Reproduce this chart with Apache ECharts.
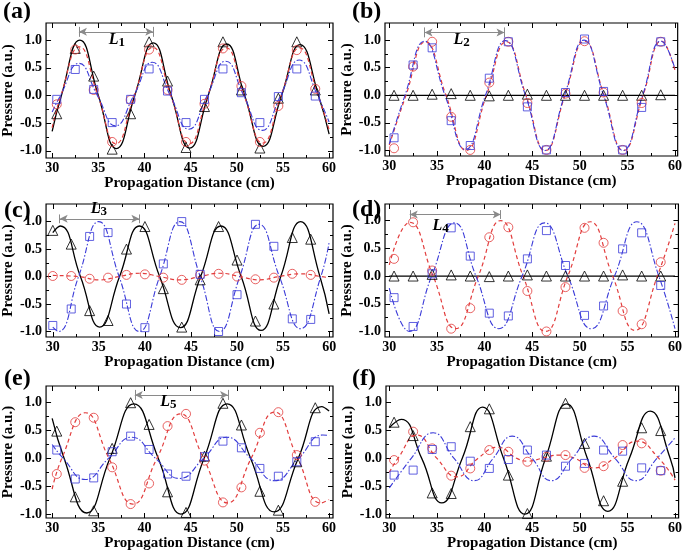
<!DOCTYPE html>
<html>
<head>
<meta charset="utf-8">
<script src="https://cdn.jsdelivr.net/npm/echarts@6/dist/echarts.min.js"></script>
<style>
  html, body { margin: 0; padding: 0; background: #fff; }
  #chart { width: 685px; height: 554px; }
</style>
</head>
<body>
<div id="chart"></div>
<script>
// sample positions (cm)
var xOdd = [30.5, 32.5, 34.5, 36.5, 38.5, 40.5, 42.5, 44.5, 46.5, 48.5, 50.5, 52.5, 54.5, 56.5, 58.5];
var xEven = [30, 32, 34, 36, 38, 40, 42, 44, 46, 48, 50, 52, 54, 56, 58];

var xTicks = [30, 35, 40, 45, 50, 55, 60];
var xMinor = [32.5, 37.5, 42.5, 47.5, 52.5, 57.5];
var yTicks = [-1, -0.5, 0, 0.5, 1];
var yMinor = [-0.75, -0.25, 0.25, 0.75];

// (a)
var aTri = [-0.33, 0.85, 0.35, -0.97, -0.33, 0.97, 0.26, -0.94, -0.2, 0.97, 0.1, -0.95, -0.05, 0.97, 0.1];
var aCir = [-0.16, 0.83, 0.1, -0.84, -0.08, 0.83, 0.1, -0.84, -0.15, 0.85, 0.17, -0.84, -0.19, 0.82, 0.12];
var aSq = [-0.07, 0.47, 0.11, -0.49, -0.07, 0.48, 0.08, -0.49, -0.07, 0.48, 0.05, -0.49, -0.02, 0.48, -0.01];
var aFitBlack = [[30,-0.65],[31,0],[33,1.0],[35,0],[36.95,-0.96],[38.95,0],[40.95,0.95],[42.9,0],[44.9,-0.95],[46.9,0],[48.9,0.93],[50.85,0],[52.85,-0.92],[54.85,0],[56.85,0.92],[58.85,0],[60,-0.7]];
var aFitRed = [[30,-0.58],[30.95,0],[32.95,0.88],[34.95,0],[36.9,-0.87],[38.9,0],[40.9,0.87],[42.85,0],[44.85,-0.87],[46.85,0],[48.85,0.86],[50.8,0],[52.8,-0.86],[54.8,0],[56.8,0.86],[58.8,0],[60,-0.62]];
var aFitBlue = [[30,-0.3],[30.9,0],[32.9,0.58],[34.9,0],[36.85,-0.55],[38.85,0],[40.85,0.6],[42.8,0],[44.8,-0.61],[46.8,0],[48.8,0.62],[50.75,0],[52.75,-0.63],[54.75,0],[56.75,0.64],[58.75,0],[60,-0.48]];

// (b)
var bTri = [0, 0, 0.02, 0.03, 0, -0.01, 0, 0.02, 0, 0, 0, 0, 0, 0, 0.01];
var bCir = [-0.96, 0.52, 0.97, -0.39, -0.99, 0.23, 0.97, -0.14, -0.99, 0.03, 0.98, 0.05, -0.99, -0.14, 0.97];
var bSq = [-0.77, 0.55, 0.86, -0.46, -0.91, 0.31, 0.97, -0.21, -0.99, 0.05, 1.02, 0.07, -0.99, -0.22, 0.97];
var bFitBlack = [[30,0],[60,0]];
var bFitRed = [[30,-0.9],[31.75,0],[33.8,0.97],[35.95,0],[38.1,-1.0],[40.2,0],[42.3,0.97],[44.35,0],[46.4,-1.0],[48.45,0],[50.5,0.98],[52.55,0],[54.6,-1.0],[56.65,0],[58.6,0.98],[60,0.45]];
var bFitBlue = [[30,-0.88],[31.65,0],[33.7,0.98],[35.85,0],[38,-0.98],[40.1,0],[42.2,0.99],[44.3,0],[46.35,-1.0],[48.4,0],[50.45,1.0],[52.5,0],[54.55,-1.0],[56.6,0],[58.55,0.98],[60,0.48]];

// (c)
var cTri = [0.84, 0.59, -0.62, -0.8, 0.5, 0.91, -0.22, -0.92, -0.06, 0.91, 0.3, -0.81, -0.5, 0.71, 0.68];
var cCir = [0.01, 0.01, -0.04, -0.02, 0.03, 0.04, -0.02, -0.06, 0.03, 0.05, 0, -0.05, -0.02, 0.05, 0.03];
var cSq = [-0.89, -0.59, 0.73, 0.8, -0.5, -0.93, 0.23, 1.0, 0.04, -1.0, -0.33, 0.95, 0.55, -0.77, -0.78];
var cFitBlack = [[30,0.8],[30.8,0.92],[33,0],[35.1,-0.92],[37.25,0],[39.4,0.92],[41.6,0],[43.85,-0.93],[46.05,0],[48.25,0.92],[50.45,0],[52.6,-0.98],[54.75,0],[56.9,1.0],[59,0],[60,-0.68]];
var cFitRed = [[30,0.02],[32.8,0],[35,-0.06],[37.2,0],[39.4,0.06],[41.6,0],[43.8,-0.06],[46,0],[48.1,0.06],[50.3,0],[52.4,-0.06],[54.6,0],[56.9,0.05],[59.1,0],[60,-0.02]];
var cFitBlue = [[30,-0.92],[30.6,-1.0],[32.8,0],[35,1.0],[37.2,0],[39.4,-1.0],[41.6,0],[43.8,1.0],[46,0],[48.1,-1.0],[50.3,0],[52.4,0.95],[54.6,0],[56.9,-0.95],[59.1,0],[60,0.62]];

// (d)
var dTri = [0, 0, 0.03, 0.02, 0, -0.01, 0, 0.02, 0, 0, 0, 0, 0.02, 0, 0];
var dCir = [0.31, 0.97, 0.1, -0.95, -0.58, 0.7, 0.88, -0.27, -1.0, -0.2, 0.87, 0.6, -0.63, -0.87, 0.25];
var dSq = [-0.39, -0.91, 0.04, 0.87, 0.36, -0.67, -0.72, 0.31, 0.82, 0.19, -0.71, -0.54, 0.49, 0.78, -0.17];
var dFitBlack = [[30,0],[60,0]];
var dFitRed = [[30,0.2],[32.15,0.97],[34.6,0],[36.95,-0.95],[39.35,0],[41.7,1.0],[44.05,0],[46.4,-1.0],[48.75,0],[51.1,0.98],[53.45,0],[55.8,-0.98],[58.15,0],[60,0.95]];
var dFitBlue = [[30,-0.22],[32.1,-1.0],[34.45,0],[36.85,0.96],[39.1,0],[41.5,-0.95],[43.95,0],[46.3,0.96],[48.75,0],[51.2,-0.95],[53.65,0],[56,0.98],[58.3,0],[60,-0.95]];

// (e)
var eTri = [0.49, -0.69, -0.94, 0.18, 1.0, 0.61, -0.6, -0.97, 0.04, 0.99, 0.6, -0.59, -0.93, -0.06, 0.91];
var eCir = [-0.28, 0.65, 0.73, -0.16, -0.82, -0.45, 0.58, 0.8, -0.04, -0.79, -0.52, 0.46, 0.83, 0.06, -0.78];
var eSq = [0.15, -0.37, -0.35, 0.12, 0.4, 0.16, -0.28, -0.32, 0.03, 0.31, 0.19, -0.18, -0.32, -0.06, 0.3];
var eFitBlack = [[30,0.72],[31.3,0],[33.75,-0.98],[36.25,0],[38.85,0.98],[41.5,0],[43.95,-1.0],[46.45,0],[48.95,0.98],[51.5,0],[54.05,-0.96],[56.65,0],[59.2,0.93],[60,0.85]];
var eFitRed = [[30,-0.55],[31.05,0],[33.6,0.82],[36.15,0],[38.75,-0.82],[41.35,0],[43.9,0.8],[46.4,0],[49,-0.8],[51.55,0],[54.1,0.83],[56.6,0],[59.1,-0.8],[60,-0.74]];
var eFitBlue = [[30,0.25],[31.2,0],[33.6,-0.38],[36.1,0],[38.6,0.38],[41.2,0],[43.8,-0.36],[46.4,0],[48.9,0.38],[51.5,0],[54.1,-0.4],[56.7,0],[59.3,0.42],[60,0.41]];

// (f)
var fTri = [0.65, 0.41, -0.62, -0.63, 0.57, 0.89, -0.3, -0.99, 0.04, 0.99, 0.27, -0.76, -0.41, 0.55, 0.5];
var fCir = [-0.03, 0.48, 0.18, -0.31, -0.18, 0.15, 0.12, -0.06, 0.03, 0.06, -0.17, -0.14, 0.24, 0.27, -0.22];
var fSq = [-0.3, -0.21, 0.16, 0.21, -0.05, -0.18, -0.02, 0.15, 0.06, -0.14, -0.09, 0.15, 0.13, -0.17, -0.22];
var fFitBlack = [[30,0.55],[31.25,0.7],[33.4,0],[35.5,-0.8],[37.65,0],[39.8,0.92],[42,0],[44.25,-1.0],[46.4,0],[48.6,0.98],[50.8,0],[52.95,-0.95],[55.2,0],[57.4,0.85],[59.5,0],[60,-0.35]];
var fFitRed = [[30,-0.25],[30.9,0],[32.9,0.42],[35,0],[37.1,-0.33],[39.3,0],[41.4,0.2],[43.4,0],[44.6,-0.05],[46,0],[47.9,0.06],[49.5,0],[51.5,-0.17],[53.6,0],[56,0.31],[58.3,0],[60,-0.39]];
var fFitBlue = [[30,-0.53],[32.3,0],[34.6,0.46],[36.8,0],[38.9,-0.4],[40.9,0],[42.9,0.4],[45,0],[47,-0.4],[49.2,0],[51.5,0.4],[53.7,0],[55.9,-0.4],[58.1,0],[60,0.37]];

var FONT = '"Liberation Serif", "Times New Roman", serif';
var RED = '#e23c3c';
var BLUE = '#3a3ad8';

var panels = [
  {tag: '(a)', tagPos: [3, 0], box: [37, 23, 296, 135], xr: [29.34, 60.42], yr: [-1.13, 1.31], yGap: 20,
   xs: xOdd, tri: aTri, cir: aCir, sq: aSq, fits: [aFitBlack, aFitRed, aFitBlue],
   arrow: {x1: 32.9, x2: 40.95, y: 1.15, h: 0.09, lx: 37.0, ly: 0.95, sub: '1'}},
  {tag: '(b)', tagPos: [352, 0], box: [385, 23, 296, 133], xr: [29.55, 60.28], yr: [-1.1, 1.31], yGap: 22,
   xs: xOdd, tri: bTri, cir: bCir, sq: bSq, fits: [bFitBlack, bFitRed, bFitBlue],
   arrow: {x1: 33.7, x2: 42.1, y: 1.14, h: 0.09, lx: 37.6, ly: 0.95, sub: '2'}},
  {tag: '(c)', tagPos: [4, 199], box: [36, 204, 297, 133], xr: [29.27, 60.42], yr: [-1.1, 1.32], yGap: 20,
   xs: xEven, tri: cTri, cir: cCir, sq: cSq, fits: [cFitBlack, cFitRed, cFitBlue],
   arrow: {x1: 30.75, x2: 39.4, y: 1.05, h: 0.08, lx: 35.0, ly: 1.18, sub: '3'}},
  {tag: '(d)', tagPos: [352, 198], box: [385, 204, 297, 133], xr: [29.55, 60.36], yr: [-1.1, 1.3], yGap: 22,
   xs: xOdd, tri: dTri, cir: dCir, sq: dSq, fits: [dFitBlack, dFitRed, dFitBlue],
   arrow: {x1: 32.15, x2: 41.7, y: 1.11, h: 0.08, lx: 35.4, ly: 0.86, sub: '4'}},
  {tag: '(e)', tagPos: [4, 367], box: [37, 386, 296, 132], xr: [29.34, 60.42], yr: [-1.07, 1.3], yGap: 20,
   xs: xOdd, tri: eTri, cir: eCir, sq: eSq, fits: [eFitBlack, eFitRed, eFitBlue],
   arrow: {x1: 38.95, x2: 49.05, y: 1.14, h: 0.09, lx: 42.6, ly: 0.96, sub: '5'}},
  {tag: '(f)', tagPos: [352, 367], box: [386, 386, 296, 132], xr: [29.65, 60.38], yr: [-1.07, 1.3], yGap: 22,
   xs: xOdd, tri: fTri, cir: fCir, sq: fSq, fits: [fFitBlack, fFitRed, fFitBlue],
   arrow: null}
];

function pairs(xs, ys) {
  return xs.map(function (x, i) { return [x, ys[i]]; });
}

function axis(gi, range, pos, ticks, len, isY, withLabels, gap) {
  var a = {
    type: 'value', gridIndex: gi, position: pos,
    min: range[0], max: range[1],
    splitLine: {show: false},
    axisLine: {show: false, onZero: false},
    axisTick: {show: true, inside: true, length: len, customValues: ticks,
               lineStyle: {color: '#000', width: 1}},
    axisLabel: {show: false}
  };
  if (withLabels) {
    a.axisLabel = {
      show: true, customValues: isY ? yTicks : xTicks, margin: isY ? 4 : 3,
      fontFamily: FONT, fontWeight: 'bold', fontSize: 14, color: '#000',
      formatter: isY ? function (v) { return v.toFixed(1); } : function (v) { return String(v); }
    };
    a.name = isY ? 'Pressure (a.u.)' : 'Propagation Distance (cm)';
    a.nameLocation = 'middle';
    a.nameGap = gap;
    a.nameTextStyle = {fontFamily: FONT, fontWeight: 'bold', fontSize: 15, color: '#000'};
  }
  return a;
}

var option = {
  animation: false,
  backgroundColor: '#fff',
  grid: [], xAxis: [], yAxis: [], series: [], graphic: []
};

panels.forEach(function (p, gi) {
  option.grid.push({left: p.box[0], top: p.box[1], width: p.box[2], height: p.box[3],
                    show: true, borderColor: '#000', borderWidth: 1.2, backgroundColor: 'transparent'});
  var xi = option.xAxis.length, yi = option.yAxis.length;
  option.xAxis.push(axis(gi, p.xr, 'bottom', xTicks, 5, false, true, 18));
  option.xAxis.push(axis(gi, p.xr, 'bottom', xMinor, 3, false, false));
  option.xAxis.push(axis(gi, p.xr, 'top', xTicks, 5, false, false));
  option.xAxis.push(axis(gi, p.xr, 'top', xMinor, 3, false, false));
  option.yAxis.push(axis(gi, p.yr, 'left', yTicks, 5, true, true, p.yGap));
  option.yAxis.push(axis(gi, p.yr, 'left', yMinor, 3, true, false));
  option.yAxis.push(axis(gi, p.yr, 'right', yTicks, 5, true, false));
  option.yAxis.push(axis(gi, p.yr, 'right', yMinor, 3, true, false));

  var styles = [
    {color: '#000', width: 1.3, type: 'solid'},
    {color: RED, width: 1.2, type: [4, 3]},
    {color: BLUE, width: 1.1, type: [6, 2, 1.5, 2]}
  ];
  p.fits.forEach(function (fit, k) {
    var s = {type: 'line', xAxisIndex: xi, yAxisIndex: yi, data: fit, smooth: 0.5,
             symbol: 'none', silent: true, z: 2, lineStyle: styles[k]};
    if (k === 0 && p.arrow) {
      var ar = p.arrow;
      s.markLine = {
        silent: true, animation: false, symbol: ['none', 'none'],
        label: {show: false},
        lineStyle: {color: '#8a8a8a', width: 1, type: 'solid'},
        data: [
          [{coord: [ar.x1, ar.y], symbol: 'arrow', symbolSize: [6, 8]},
           {coord: [ar.x2, ar.y], symbol: 'arrow', symbolSize: [6, 8]}],
          [{coord: [ar.x1, ar.y - ar.h]}, {coord: [ar.x1, ar.y + ar.h]}],
          [{coord: [ar.x2, ar.y - ar.h]}, {coord: [ar.x2, ar.y + ar.h]}]
        ]
      };
      s.markPoint = {
        silent: true, animation: false, symbol: 'circle', symbolSize: 0,
        data: [{coord: [ar.lx, ar.ly]}],
        label: {
          show: true, position: 'inside',
          formatter: '{l|L}{s|' + ar.sub + '}',
          rich: {
            l: {fontFamily: FONT, fontStyle: 'italic', fontWeight: 'bold', fontSize: 16, color: '#000',
                lineHeight: 16, verticalAlign: 'top'},
            s: {fontFamily: FONT, fontWeight: 'bold', fontSize: 13, color: '#000', lineHeight: 22}
          }
        }
      };
    }
    option.series.push(s);
  });

  var empty = 'rgba(0,0,0,0)';
  option.series.push({type: 'scatter', xAxisIndex: xi, yAxisIndex: yi, z: 3, silent: true,
    symbol: 'triangle', symbolSize: 10, data: pairs(p.xs, p.tri),
    itemStyle: {color: empty, borderColor: '#000', borderWidth: 1}});
  option.series.push({type: 'scatter', xAxisIndex: xi, yAxisIndex: yi, z: 3, silent: true,
    symbol: 'circle', symbolSize: 9, data: pairs(p.xs, p.cir),
    itemStyle: {color: empty, borderColor: RED, borderWidth: 1}});
  option.series.push({type: 'scatter', xAxisIndex: xi, yAxisIndex: yi, z: 3, silent: true,
    symbol: 'rect', symbolSize: 8, data: pairs(p.xs, p.sq),
    itemStyle: {color: empty, borderColor: BLUE, borderWidth: 1}});

  option.graphic.push({type: 'text', left: p.tagPos[0], top: p.tagPos[1], silent: true,
    style: {text: p.tag, fill: '#000', font: 'bold 24px "Liberation Serif", serif'}});
});

var chart = echarts.init(document.getElementById('chart'), null, {renderer: 'canvas'});
chart.setOption(option);
</script>
</body>
</html>
